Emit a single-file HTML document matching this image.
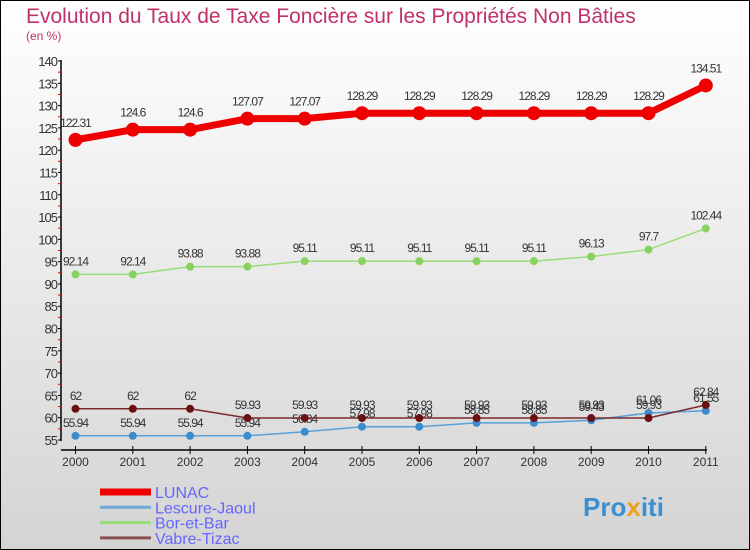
<!DOCTYPE html>
<html><head><meta charset="utf-8"><style>
body{margin:0}
#c{width:750px;height:550px;position:relative;overflow:hidden;font-family:"Liberation Sans",sans-serif}
</style></head><body>
<div id="c">
<svg id="s" width="750" height="550" xmlns="http://www.w3.org/2000/svg">
<defs><linearGradient id="bg" x1="0" y1="0" x2="0" y2="1"><stop offset="0" stop-color="#ffffff"/><stop offset="1" stop-color="#d4d4d4"/></linearGradient></defs>
<rect x="0.5" y="0.5" width="749" height="549" fill="url(#bg)" stroke="#000"/>
<text x="26" y="23" font-size="21" fill="#c0306a">Evolution du Taux de Taxe Foncière sur les Propriétés Non Bâties</text>
<text x="26" y="40" font-size="12" fill="#c0306a">(en %)</text>
<g id="axes"></g><g id="series"></g><g id="legend"></g>
<text x="583" y="516" font-size="26" font-weight="bold" fill="#3a8fd0">Pro<tspan fill="#f0a020">x</tspan>iti</text>
</svg></div>
<script>
const years=["2000","2001","2002","2003","2004","2005","2006","2007","2008","2009","2010","2011"];
const yTicks=[55,60,65,70,75,80,85,90,95,100,105,110,115,120,125,130,135,140];
const lunac=[122.31,124.6,124.6,127.07,127.07,128.29,128.29,128.29,128.29,128.29,128.29,134.51];
const lescure=[55.94,55.94,55.94,55.94,56.84,57.98,57.98,58.85,58.85,59.43,61.06,61.55];
const bor=[92.14,92.14,93.88,93.88,95.11,95.11,95.11,95.11,95.11,96.13,97.7,102.44];
const vabre=[62,62,62,59.93,59.93,59.93,59.93,59.93,59.93,59.93,59.93,62.84];
const names=["LUNAC","Lescure-Jaoul","Bor-et-Bar","Vabre-Tizac"];
const NS="http://www.w3.org/2000/svg";
const X=i=>75.5+i*57.3;
const Y=v=>440-(v-55)*(379/85);
function mk(p,t,a){const e=document.createElementNS(NS,t);for(const k in a)e.setAttribute(k,a[k]);p.appendChild(e);return e;}
const ax=document.getElementById('axes');
let e=mk(ax,'line',{x1:61,y1:60,x2:61,y2:441,stroke:'#000','stroke-width':1.5});

e=mk(ax,'line',{x1:61,y1:450,x2:707,y2:450,stroke:'#000','stroke-width':1.5});

yTicks.forEach((v,i)=>{mk(ax,'line',{x1:58,y1:Y(v),x2:61,y2:Y(v),stroke:'#000'});
 if(i<yTicks.length-1)mk(ax,'line',{x1:58,y1:Y(v+2.5),x2:61,y2:Y(v+2.5),stroke:'#e00'});
 const t=mk(ax,'text',{x:57,y:Y(v)+5,'font-size':13,'text-anchor':'end',fill:'#333','letter-spacing':'-1'});t.textContent=v;
 });
years.forEach((y,i)=>{mk(ax,'line',{x1:X(i),y1:446,x2:X(i),y2:454,stroke:'#000'});
 const t=mk(ax,'text',{x:X(i),y:466,'font-size':12,'text-anchor':'middle',fill:'#333'});t.textContent=y;
 });
const sg=document.getElementById('series');
function series(data,col,dot,w,r,name){
 const g=mk(sg,'g',{});
 mk(g,'polyline',{points:data.map((v,i)=>X(i)+','+Y(v)).join(' '),fill:'none',stroke:col,'stroke-width':w,'stroke-linejoin':'round'});
 data.forEach((v,i)=>{const c=mk(g,'circle',{cx:X(i),cy:Y(v),r:r,fill:dot});
  
  const t=mk(g,'text',{x:X(i),y:Y(v)-9-(r>4?4:0),'font-size':12,'text-anchor':'middle',fill:'#333','letter-spacing':'-1'});t.textContent=v;
  });
}
series(lescure,'#5aa0d8','#3a8ccc',1.5,4,'lescure-jaoul');
series(vabre,'#7a2a2a','#6a1010',1.5,4,'vabre-tizac');
series(bor,'#99dd77','#88d060',1.5,4,'bor-et-bar');
series(lunac,'#ee0000','#ee0000',7,7,'lunac');
const lg=document.getElementById('legend');
const lc=['#ee0000','#6fa8d8','#99dd77','#8a5050'];const lw=[7,3,3,3];
names.forEach((n,i)=>{const g=mk(lg,'g',{});
 const y=492+i*15.3;
 mk(g,'line',{x1:100,y1:y,x2:151,y2:y,stroke:lc[i],'stroke-width':lw[i]});
 const t=mk(g,'text',{x:155,y:y+6,'font-size':16,fill:'#6666ff'});t.textContent=n;});
</script>
</body></html>
